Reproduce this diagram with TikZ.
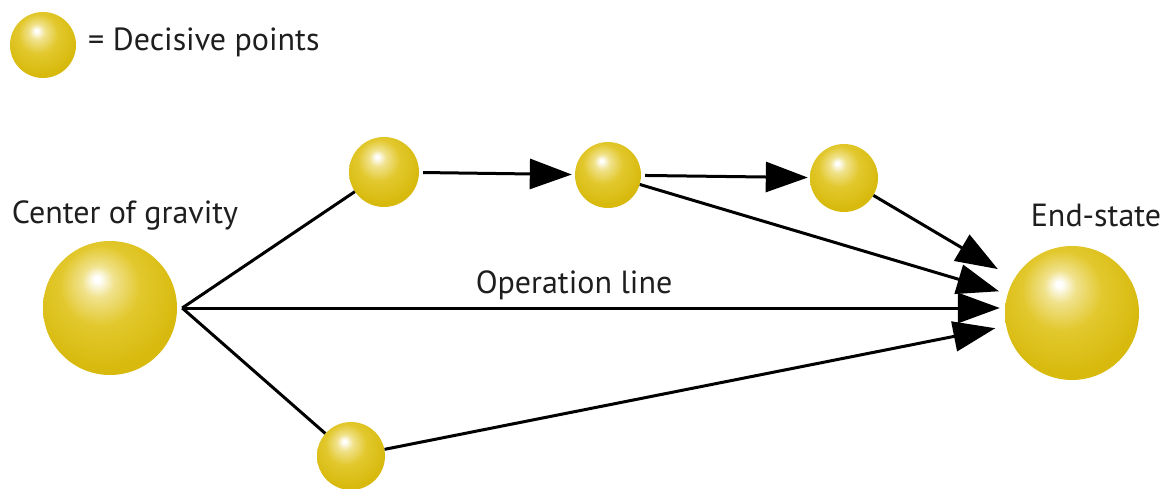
\documentclass[tikz,border=0pt]{standalone}
\usepackage{fontspec}
\setmainfont{PT Sans}
\usetikzlibrary{arrows.meta,calc}
\definecolor{goldA}{RGB}{216,186,14}
\definecolor{goldB}{RGB}{226,200,45}
\definecolor{goldC}{RGB}{240,226,140}
\definecolor{txt}{RGB}{30,30,30}
\pgfdeclareradialshading{sphereshade}{\pgfpoint{-5bp}{11bp}}{%
  color(0bp)=(white); color(1bp)=(white); color(6bp)=(goldC); color(15bp)=(goldB); color(28bp)=(goldA); color(60bp)=(goldA)}
\tikzset{
  ball/.style={circle, inner sep=0pt, shading=sphereshade, minimum size=#1},
  arr/.style={line width=3pt, -{Triangle[length=42pt,width=30pt]}},
  ln/.style={line width=3pt},
  lbl/.style={text=txt, font=\fontsize{32}{38}\selectfont, inner sep=0pt}
}
\begin{document}
\begin{tikzpicture}[x=1pt,y=-1pt]
\useasboundingbox (0,0) rectangle (1167,489);
\node[ball=66pt] (leg) at (43,45) {};
\node[lbl, anchor=west] (legt) at (88,42) {= Decisive points};
\node[ball=134pt] (cog) at (110,308) {};
\node[ball=70pt] (s1) at (384,172) {};
\node[ball=66pt] (s2) at (608,175) {};
\node[ball=68pt] (s3) at (844,178) {};
\node[ball=68pt] (b) at (351,456) {};
\node[ball=134pt] (end) at (1072,313) {};
\node[lbl] (cogl) at (125,215) {Center of gravity};
\node[lbl] (endl) at (1096,215) {End-state};
\node[lbl] (opl) at (574,285) {Operation line};
\coordinate (o) at ([xshift=5pt]cog.east);
\draw[ln] (o) -- (s1);
\draw[ln] (o) -- (b);
\draw[arr, shorten >=5pt] (o) -- (o -| end.west);
\draw[arr, shorten <=4pt, shorten >=3pt] (s1) -- (s2);
\draw[arr, shorten <=4pt, shorten >=2pt] (s2) -- (s3);
\draw[arr, shorten >=19pt] (s3) -- (end);
\draw[arr, shorten >=9pt] (s2) -- (end);
\draw[arr, shorten >=11pt] (b) -- (end);
\end{tikzpicture}
\end{document}
